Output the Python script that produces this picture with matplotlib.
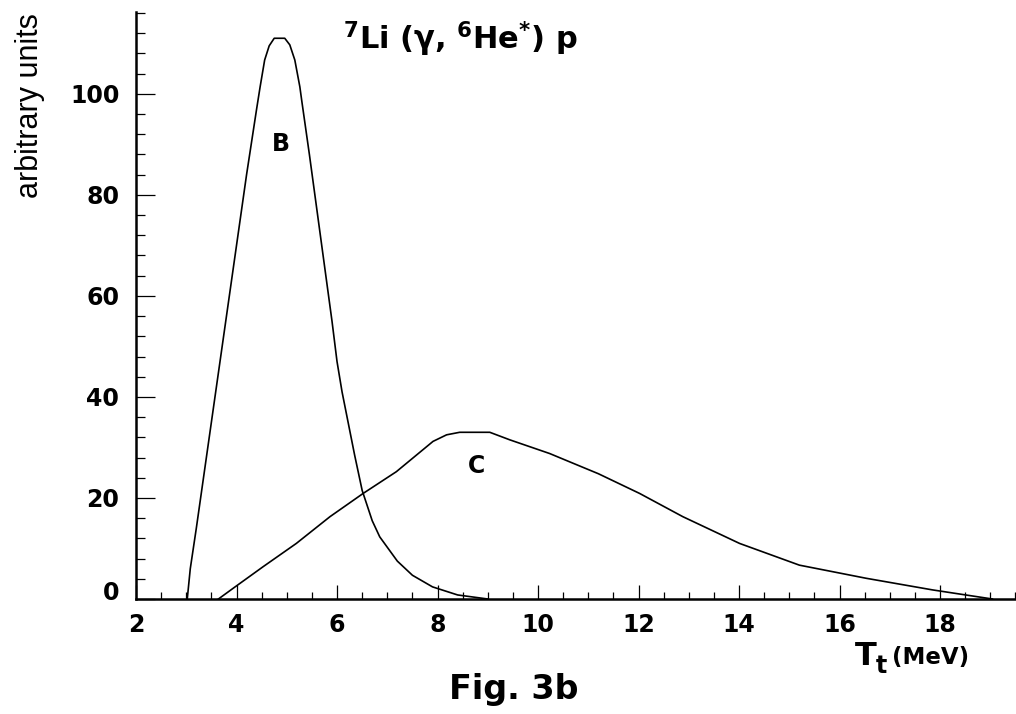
import matplotlib
matplotlib.use("Agg")
import matplotlib.pyplot as plt
import numpy as np
from matplotlib.ticker import MultipleLocator
from matplotlib.transforms import ScaledTranslation

# ---- data ----
b_x = [3.02, 3.08, 3.2, 3.4, 3.6, 3.8, 4.0, 4.2, 4.4, 4.47, 4.56, 4.65, 4.75, 4.85, 4.96, 5.06,
       5.16, 5.26, 5.3, 5.45, 5.6, 5.75, 5.9, 6.0, 6.1, 6.2, 6.35, 6.5, 6.7, 6.85, 7.2,
       7.5, 7.9, 8.4, 9.0]
b_y = [0, 6, 14, 28, 42, 56, 70, 84, 97, 101.4, 106.7, 109.5, 111, 111, 111, 109.7,
       106.7, 101.4, 98.5, 88, 77, 66, 55, 47, 41, 36, 28.5, 21.5, 15.5, 12.3, 7.5,
       4.7, 2.4, 0.8, 0]

c_x = [3.64, 3.93, 4.53, 5.19, 5.86, 6.52, 7.18, 7.91, 8.18, 8.44, 9.04, 9.44, 10.23,
       10.69, 11.2, 12.02, 12.88, 14.01, 15.2, 16.53, 17.85, 18.51, 19.04]
c_y = [0, 2.1, 6.4, 11.0, 16.3, 20.9, 25.2, 31.2, 32.5, 33.0, 33.0, 31.5, 28.8,
       26.9, 24.8, 20.9, 16.3, 11.0, 6.7, 4.1, 1.8, 0.8, 0]

x_ticks = [2, 4, 6, 8, 10, 12, 14, 16, 18]
y_ticks = [0, 20, 40, 60, 80, 100]
curve_labels = ["B", "C"]
label_pos = [(4.89, 90.1), (8.77, 26.3)]

# ---- styling ----
plt.rcParams['font.family'] = ['DejaVu Sans']
plt.rcParams['font.weight'] = 'bold'
plt.rcParams['mathtext.fontset'] = 'custom'
plt.rcParams['mathtext.rm'] = 'DejaVu Sans:bold'
plt.rcParams['mathtext.it'] = 'DejaVu Sans:bold'
plt.rcParams['mathtext.bf'] = 'DejaVu Sans:bold'

fig = plt.figure(figsize=(10.16, 7.14), dpi=100)
ax = fig.add_axes([136/1016, 115/714, 880/1016, 587/714])

ax.plot(b_x, b_y, color='black', lw=1.2)
ax.plot(c_x, c_y, color='black', lw=1.2)

ax.set_xlim(2, 19.51)
ax.set_ylim(0, 116.2)

for s in ['top', 'right']:
    ax.spines[s].set_visible(False)
for s in ['left', 'bottom']:
    ax.spines[s].set_linewidth(1.8)

ax.set_xticks(x_ticks)
ax.set_yticks(y_ticks)
ax.xaxis.set_minor_locator(MultipleLocator(0.5))
ax.yaxis.set_minor_locator(MultipleLocator(4))

ax.tick_params(axis='x', which='major', direction='in', length=10, width=0.9,
               pad=10, labelsize=17)
ax.tick_params(axis='x', which='minor', direction='in', length=5, width=0.9)
ax.tick_params(axis='y', which='major', direction='in', length=13.5, width=0.9,
               pad=12, labelsize=17)
ax.tick_params(axis='y', which='minor', direction='in', length=6.5, width=0.9)
for lab in ax.get_xticklabels() + ax.get_yticklabels():
    lab.set_fontweight('bold')
# the "0" label sits a little above the axis in the reference
ylabs = ax.get_yticklabels()
ylabs[0].set_transform(ylabs[0].get_transform() + ScaledTranslation(0, 8/100, fig.dpi_scale_trans))

for t, (lx, ly) in zip(curve_labels, label_pos):
    ax.text(lx, ly, t, fontsize=17, fontweight='bold', ha='center', va='center')

# y label
fig.text(30/1016, 1 - 106/714, 'arbitrary units', rotation=90, ha='center', va='center',
         fontsize=22, fontweight='normal',
         family=['Liberation Sans Narrow', 'Liberation Sans', 'DejaVu Sans'])

# title
fig.text(343/1016, 1 - 49/714, r'$^{7}$Li (γ, $^{6}$He$^{*}$) p', fontsize=22,
         fontweight='bold', ha='left', va='baseline')

# x label
fig.text(855/1016, 1 - 665/714, 'T', fontsize=23, fontweight='bold', ha='left', va='baseline')
fig.text(876/1016, 1 - 673/714, 't', fontsize=17, fontweight='bold', ha='left', va='baseline')
fig.text(892/1016, 1 - 664/714, '(MeV)', fontsize=16.5, fontweight='bold', ha='left', va='baseline')

# figure caption
fig.text(514/1016, 1 - 699/714, 'Fig. 3b', fontsize=24, fontweight='bold', ha='center', va='baseline')

fig.savefig('out.png', dpi=100)
